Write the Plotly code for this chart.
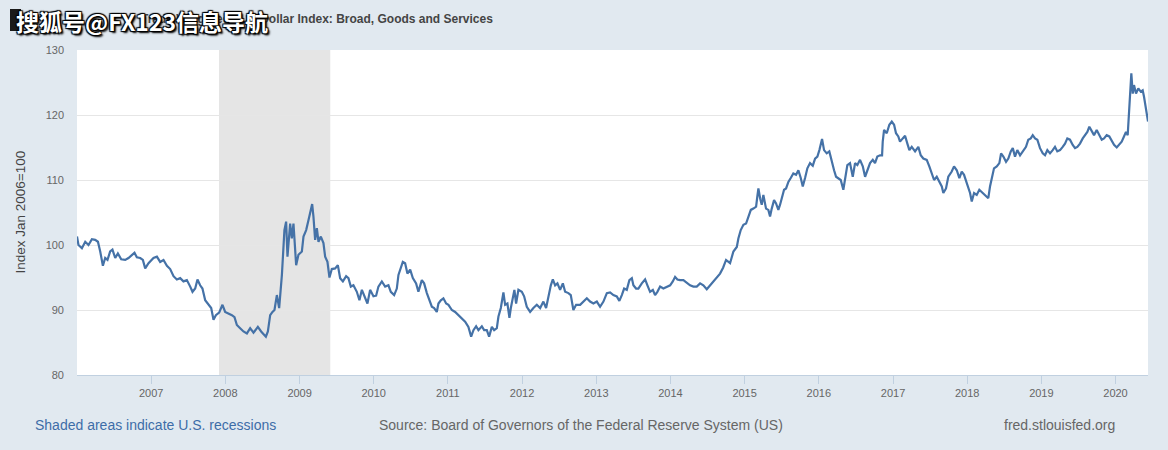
import datetime as dt
import plotly.graph_objects as go

# Time positions, in years since 2006-01-01
t_years = [
    0.000, 0.020, 0.066, 0.111, 0.155, 0.201, 0.245, 0.282, 0.313, 0.349, 0.380, 0.411,
    0.447, 0.478, 0.515, 0.551, 0.596, 0.650, 0.694, 0.740, 0.775, 0.807, 0.852, 0.888,
    0.919, 0.964, 1.031, 1.077, 1.121, 1.166, 1.212, 1.256, 1.301, 1.346, 1.391, 1.435,
    1.481, 1.526, 1.557, 1.593, 1.624, 1.660, 1.691, 1.728, 1.772, 1.809, 1.840, 1.872,
    1.916, 1.961, 1.997, 2.042, 2.088, 2.123, 2.155, 2.199, 2.244, 2.290, 2.334, 2.379,
    2.438, 2.482, 2.513, 2.546, 2.573, 2.604, 2.635, 2.662, 2.694, 2.725, 2.762, 2.774,
    2.796, 2.819, 2.837, 2.873, 2.896, 2.918, 2.954, 2.985, 3.031, 3.053, 3.089, 3.120,
    3.152, 3.170, 3.187, 3.210, 3.233, 3.255, 3.287, 3.322, 3.345, 3.376, 3.403, 3.435,
    3.480, 3.516, 3.547, 3.584, 3.628, 3.659, 3.691, 3.726, 3.772, 3.807, 3.840, 3.884,
    3.915, 3.951, 3.996, 4.032, 4.063, 4.109, 4.154, 4.198, 4.230, 4.275, 4.311, 4.333,
    4.365, 4.392, 4.423, 4.454, 4.491, 4.527, 4.571, 4.602, 4.648, 4.679, 4.716, 4.751,
    4.783, 4.814, 4.850, 4.872, 4.904, 4.939, 4.976, 5.007, 5.053, 5.097, 5.142, 5.187,
    5.232, 5.276, 5.313, 5.344, 5.380, 5.411, 5.457, 5.488, 5.524, 5.555, 5.592, 5.623,
    5.659, 5.681, 5.713, 5.748, 5.771, 5.802, 5.829, 5.848, 5.875, 5.896, 5.919, 5.950,
    5.996, 6.027, 6.063, 6.108, 6.152, 6.198, 6.243, 6.287, 6.323, 6.354, 6.387, 6.414,
    6.445, 6.476, 6.512, 6.549, 6.580, 6.624, 6.656, 6.691, 6.728, 6.782, 6.826, 6.872,
    6.916, 6.961, 7.007, 7.051, 7.096, 7.142, 7.186, 7.230, 7.276, 7.311, 7.344, 7.375,
    7.411, 7.446, 7.479, 7.500, 7.536, 7.567, 7.613, 7.658, 7.689, 7.725, 7.762, 7.792,
    7.823, 7.860, 7.904, 7.950, 7.995, 8.031, 8.062, 8.093, 8.129, 8.174, 8.220, 8.264,
    8.309, 8.354, 8.399, 8.443, 8.489, 8.534, 8.578, 8.624, 8.668, 8.709, 8.749, 8.803,
    8.848, 8.894, 8.915, 8.947, 8.983, 9.019, 9.050, 9.083, 9.117, 9.154, 9.171, 9.185,
    9.208, 9.230, 9.252, 9.288, 9.319, 9.342, 9.365, 9.396, 9.423, 9.454, 9.477, 9.500,
    9.531, 9.558, 9.589, 9.621, 9.656, 9.693, 9.724, 9.756, 9.783, 9.814, 9.845, 9.881,
    9.918, 9.949, 9.980, 10.007, 10.026, 10.043, 10.070, 10.106, 10.141, 10.174, 10.205, 10.232,
    10.263, 10.295, 10.330, 10.353, 10.384, 10.420, 10.457, 10.488, 10.519, 10.555, 10.592, 10.623,
    10.654, 10.690, 10.727, 10.757, 10.788, 10.825, 10.852, 10.861, 10.879, 10.915, 10.950, 10.983,
    11.014, 11.040, 11.071, 11.094, 11.131, 11.162, 11.193, 11.220, 11.252, 11.297, 11.341, 11.373,
    11.408, 11.454, 11.489, 11.521, 11.553, 11.589, 11.624, 11.657, 11.678, 11.714, 11.745, 11.791,
    11.822, 11.859, 11.894, 11.926, 11.957, 11.994, 12.015, 12.038, 12.061, 12.092, 12.128, 12.163,
    12.209, 12.240, 12.284, 12.307, 12.330, 12.361, 12.398, 12.433, 12.456, 12.487, 12.523, 12.554,
    12.587, 12.614, 12.644, 12.675, 12.712, 12.756, 12.792, 12.823, 12.856, 12.883, 12.914, 12.945,
    12.981, 13.018, 13.049, 13.080, 13.116, 13.152, 13.183, 13.214, 13.251, 13.287, 13.318, 13.349,
    13.385, 13.422, 13.453, 13.484, 13.520, 13.557, 13.588, 13.619, 13.646, 13.678, 13.709, 13.745,
    13.780, 13.813, 13.844, 13.880, 13.915, 13.948, 13.979, 14.015, 14.050, 14.082, 14.113, 14.140,
    14.163, 14.181, 14.194, 14.212, 14.231, 14.248, 14.275, 14.306, 14.338, 14.365, 14.383, 14.410,
    14.427, 14.437,
]

index_values = [
    101.3, 100.0, 99.5, 100.5, 100.0, 100.9, 100.8, 100.5, 99.0, 96.8, 98.0, 97.7,
    99.0, 99.3, 98.0, 98.7, 97.8, 97.7, 98.0, 98.5, 98.8, 98.1, 98.0, 97.7,
    96.4, 97.2, 98.0, 98.2, 97.4, 97.7, 96.8, 96.3, 95.2, 94.7, 94.9, 94.4,
    94.6, 93.6, 92.8, 93.3, 94.7, 93.8, 93.3, 91.5, 90.8, 90.3, 88.5, 89.2,
    89.6, 90.8, 89.7, 89.5, 89.2, 88.9, 87.7, 87.2, 86.7, 86.4, 87.2, 86.5,
    87.4, 86.7, 86.3, 85.9, 86.7, 89.2, 89.7, 90.0, 92.3, 90.3, 95.4, 98.2,
    102.3, 103.6, 98.2, 103.3, 101.0, 103.3, 96.9, 98.5, 99.0, 101.3, 102.3, 103.8,
    105.4, 106.3, 104.4, 100.8, 102.6, 100.5, 101.3, 100.3, 98.2, 97.4, 95.0, 96.3,
    96.4, 96.9, 94.9, 94.4, 95.2, 94.9, 93.6, 93.8, 92.8, 91.5, 93.1, 91.8,
    91.0, 93.1, 92.1, 92.2, 93.6, 94.4, 93.6, 93.8, 92.8, 92.3, 93.3, 95.4,
    96.7, 97.4, 97.2, 95.6, 96.2, 94.9, 94.1, 92.8, 94.6, 94.1, 92.6, 91.3,
    90.5, 90.3, 89.7, 91.0, 91.5, 91.8, 91.0, 90.8, 90.0, 89.7, 89.2, 88.7,
    88.2, 87.4, 85.9, 86.9, 87.5, 86.9, 87.5, 86.9, 86.9, 85.9, 87.4, 86.9,
    87.2, 89.0, 90.3, 92.7, 90.8, 91.0, 88.8, 90.3, 91.8, 93.1, 91.0, 93.1,
    92.8, 92.1, 90.5, 89.7, 90.3, 90.8, 90.3, 91.3, 90.3, 92.1, 93.8, 94.7,
    93.8, 94.1, 93.1, 94.1, 92.8, 92.6, 92.3, 90.0, 90.8, 90.8, 91.3, 91.8,
    91.3, 91.0, 91.3, 90.5, 91.3, 92.6, 92.7, 92.3, 92.1, 91.4, 92.3, 93.3,
    93.1, 94.6, 94.9, 93.8, 93.3, 93.3, 94.1, 94.7, 93.8, 92.8, 93.1, 92.3,
    92.8, 93.6, 93.3, 93.6, 93.8, 94.4, 95.1, 94.7, 94.6, 94.6, 94.2, 93.8,
    93.6, 93.6, 94.1, 93.8, 93.2, 93.8, 94.4, 94.9, 95.6, 96.5, 97.7, 97.2,
    99.0, 99.7, 101.0, 102.3, 103.1, 103.3, 104.4, 105.4, 105.6, 105.9, 107.5, 108.7,
    107.2, 106.2, 107.7, 105.6, 105.4, 104.4, 105.6, 106.9, 106.4, 105.4, 106.2, 107.2,
    108.5, 108.7, 109.7, 110.3, 111.0, 110.8, 111.5, 110.3, 109.0, 110.3, 111.8, 112.6,
    112.2, 113.3, 113.6, 114.6, 115.6, 116.3, 114.6, 114.1, 114.4, 112.8, 111.5, 110.5,
    110.3, 110.0, 108.5, 110.0, 112.3, 112.6, 110.5, 112.6, 112.3, 113.1, 112.1, 110.5,
    111.5, 112.6, 113.1, 112.6, 113.6, 113.8, 113.8, 115.9, 117.7, 117.2, 118.5, 119.0,
    118.5, 117.2, 116.7, 115.9, 116.4, 116.8, 115.6, 114.6, 115.1, 114.4, 115.1, 113.8,
    113.3, 113.1, 112.1, 111.0, 110.0, 110.5, 109.7, 109.0, 108.0, 108.7, 110.5, 111.3,
    112.1, 111.5, 110.3, 111.3, 110.8, 109.5, 109.0, 108.0, 106.7, 108.0, 107.7, 108.5,
    108.0, 107.7, 107.2, 109.0, 110.3, 111.8, 112.1, 112.6, 114.1, 113.6, 112.8, 113.3,
    114.4, 114.9, 113.6, 114.6, 113.8, 114.6, 115.1, 116.2, 116.4, 116.9, 116.4, 116.2,
    114.9, 114.1, 113.8, 114.6, 114.1, 114.6, 115.1, 114.4, 114.6, 115.1, 115.6, 116.4,
    116.2, 115.4, 114.9, 115.1, 115.6, 116.4, 116.9, 117.4, 118.2, 117.4, 116.9, 117.7,
    116.9, 116.2, 116.4, 116.9, 116.7, 115.9, 115.4, 115.0, 115.4, 115.9, 116.7, 117.4,
    116.9, 120.8, 123.8, 126.4, 123.3, 124.6, 123.3, 124.1, 123.6, 123.8, 122.8, 120.8,
    119.2, 119.0,
]

recession_start = "2007-12-01"
recession_end = "2009-06-01"
x_range = ["2006-01-01", "2020-06-09"]
y_ticks = [80, 90, 100, 110, 120, 130]
year_ticks = [f"{y}-01-01" for y in range(2007, 2021)]
year_labels = [str(y) for y in range(2007, 2021)]

title_text = "Trade Weighted U.S. Dollar Index: Broad, Goods and Services"
y_title = "Index Jan 2006=100"
note_left = "Shaded areas indicate U.S. recessions"
note_mid = "Source: Board of Governors of the Federal Reserve System (US)"
note_right = "fred.stlouisfed.org"
watermark = "搜狐号@FX123信息导航"

base = dt.datetime(2006, 1, 1)
dates = [base + dt.timedelta(days=t * 365.25) for t in t_years]

W, H = 1168, 450
L, R, T, B = 77, 20, 50, 75
PW, PH = W - L - R, H - T - B


def px(xp):
    return (xp - L) / PW


def py(yp):
    return (H - B - yp) / PH


FONT = "Liberation Sans, Arial, Helvetica, sans-serif"

fig = go.Figure()
fig.add_trace(go.Scatter(
    x=dates, y=index_values, mode="lines",
    line=dict(color="#4572A7", width=2.2),
    hoverinfo="x+y", showlegend=False,
))

fig.add_shape(type="rect", xref="x", yref="paper",
              x0=recession_start, x1=recession_end, y0=0, y1=1,
              fillcolor="#E5E5E5", line=dict(width=0), layer="between")

# dark logo block at top-left
fig.add_shape(type="rect", xref="paper", yref="paper",
              x0=px(10), x1=px(21), y0=py(31), y1=py(9),
              fillcolor="#1a1a1a", line=dict(width=0), layer="above")

fig.update_layout(
    width=W, height=H,
    margin=dict(l=L, r=R, t=T, b=B),
    paper_bgcolor="#E1E9F0",
    plot_bgcolor="#FFFFFF",
    font=dict(family=FONT, color="#666666", size=11),
    xaxis=dict(
        type="date", range=x_range,
        tickvals=year_ticks, ticktext=year_labels,
        showgrid=False, ticks="outside", ticklen=8, tickcolor="#C0D0E0",
        showline=True, linecolor="#C0D0E0", linewidth=1,
        tickfont=dict(size=11, color="#666666"),
        zeroline=False, fixedrange=True,
    ),
    yaxis=dict(
        range=[80, 130], tickvals=y_ticks,
        showgrid=True, gridcolor="#E6E6E6", gridwidth=1,
        ticks="", ticklabelstandoff=12,
        tickfont=dict(size=11, color="#666666"),
        zeroline=False, showline=False, fixedrange=True,
    ),
)

ann = [
    dict(text=f"<b>{title_text}</b>", x=px(495), y=py(19), xanchor="right", yanchor="middle",
         font=dict(size=12, color="#444444", family=FONT)),
    dict(text=y_title, x=px(20), y=0.5, xanchor="center", yanchor="middle", textangle=-90,
         font=dict(size=13.5, color="#444444", family=FONT)),
    dict(text=note_left, x=px(33), y=py(425), xanchor="left", yanchor="middle",
         font=dict(size=14, color="#3D6DA8", family=FONT)),
    dict(text=note_mid, x=px(377), y=py(425), xanchor="left", yanchor="middle",
         font=dict(size=14, color="#666666", family=FONT)),
    dict(text=note_right, x=px(1117), y=py(425), xanchor="right", yanchor="middle",
         font=dict(size=14, color="#666666", family=FONT)),
    dict(text=f"<b>{watermark}</b>", x=px(14), y=py(21), xanchor="left", yanchor="middle",
         font=dict(size=23, color="#FFFFFF", family="Noto Sans CJK SC, sans-serif",
                   shadow="1px 1px 1px #000, -1px -1px 1px #000, 1px -1px 1px #000, -1px 1px 1px #000, 2px 2px 2px #000")),
]
for a in ann:
    a.update(xref="paper", yref="paper", showarrow=False)
fig.update_layout(annotations=ann)

fig.write_html(
    "out.html",
    config={"displayModeBar": False},
    post_script="document.body.style.margin='0';document.body.style.padding='0';",
)
